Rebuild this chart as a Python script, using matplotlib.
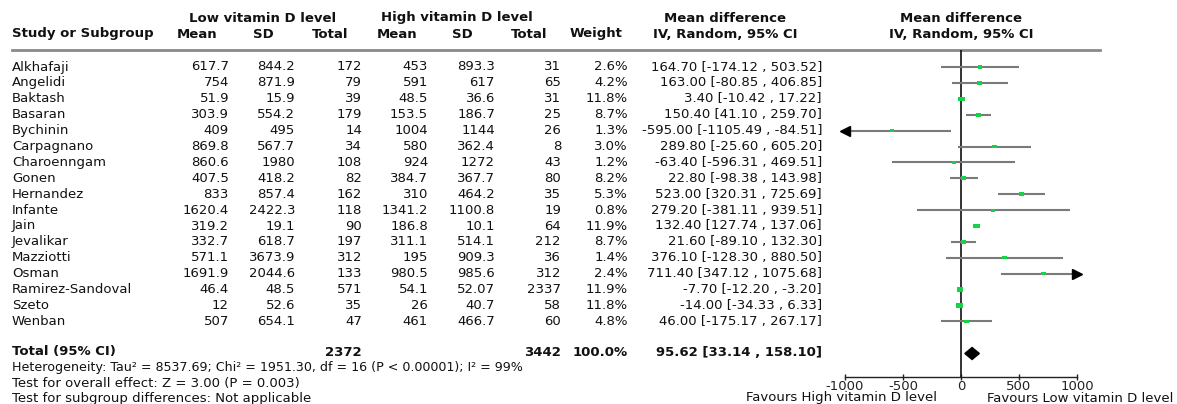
import matplotlib
matplotlib.use("Agg")
import matplotlib.pyplot as plt
from matplotlib.patches import Rectangle, Polygon

plt.rcParams['font.family'] = ['DejaVu Sans']
plt.rcParams['axes.unicode_minus'] = False

# data
studies = ["Alkhafaji", "Angelidi", "Baktash", "Basaran", "Bychinin", "Carpagnano",
           "Charoenngam", "Gonen", "Hernandez", "Infante", "Jain", "Jevalikar",
           "Mazziotti", "Osman", "Ramirez-Sandoval", "Szeto", "Wenban"]
low_mean = [617.7, 754, 51.9, 303.9, 409, 869.8, 860.6, 407.5, 833, 1620.4,
            319.2, 332.7, 571.1, 1691.9, 46.4, 12, 507]
low_sd = [844.2, 871.9, 15.9, 554.2, 495, 567.7, 1980, 418.2, 857.4, 2422.3,
          19.1, 618.7, 3673.9, 2044.6, 48.5, 52.6, 654.1]
low_n = [172, 79, 39, 179, 14, 34, 108, 82, 162, 118, 90, 197, 312, 133, 571, 35, 47]
high_mean = [453, 591, 48.5, 153.5, 1004, 580, 924, 384.7, 310, 1341.2,
             186.8, 311.1, 195, 980.5, 54.1, 26, 461]
high_sd = [893.3, 617, 36.6, 186.7, 1144, 362.4, 1272, 367.7, 464.2, 1100.8,
           10.1, 514.1, 909.3, 985.6, 52.07, 40.7, 466.7]
high_n = [31, 65, 31, 25, 26, 8, 43, 80, 35, 19, 64, 212, 36, 312, 2337, 58, 60]
weight = [2.6, 4.2, 11.8, 8.7, 1.3, 3.0, 1.2, 8.2, 5.3, 0.8, 11.9, 8.7, 1.4, 2.4,
          11.9, 11.8, 4.8]
md = [164.70, 163.00, 3.40, 150.40, -595.00, 289.80, -63.40, 22.80, 523.00, 279.20,
      132.40, 21.60, 376.10, 711.40, -7.70, -14.00, 46.00]
ci_lo = [-174.12, -80.85, -10.42, 41.10, -1105.49, -25.60, -596.31, -98.38, 320.31,
         -381.11, 127.74, -89.10, -128.30, 347.12, -12.20, -34.33, -175.17]
ci_hi = [503.52, 406.85, 17.22, 259.70, -84.51, 605.20, 469.51, 143.98, 725.69,
         939.51, 137.06, 132.30, 880.50, 1075.68, -3.20, 6.33, 267.17]

total_low = 2372
total_high = 3442
pooled = (95.62, 33.14, 158.10)
heterogeneity = "Heterogeneity: Tau\u00b2 = 8537.69; Chi\u00b2 = 1951.30, df = 16 (P < 0.00001); I\u00b2 = 99%"
overall = "Test for overall effect: Z = 3.00 (P = 0.003)"
subgroup = "Test for subgroup differences: Not applicable"
ticks = [-1000, -500, 0, 500, 1000]

W, H = 1177, 404
FS = 9.5
fig = plt.figure(figsize=(W / 100, H / 100), dpi=100)

# table layer in pixel units
ax = fig.add_axes([0, 0, 1, 1])
ax.set_xlim(0, W)
ax.set_ylim(H, 0)
ax.axis('off')

def row_y(i):
    return 67 + 15.9 * i

bold = dict(fontsize=FS, fontweight='bold', va='center', color='#111111')
norm = dict(fontsize=FS, va='center', color='#111111')

# headers
ax.text(263, 18, "Low vitamin D level", ha='center', **bold)
ax.text(457, 18, "High vitamin D level", ha='center', **bold)
ax.text(725, 18, "Mean difference", ha='center', **bold)
ax.text(725, 34, "IV, Random, 95% CI", ha='center', **bold)
ax.text(961, 18, "Mean difference", ha='center', **bold)
ax.text(961, 34, "IV, Random, 95% CI", ha='center', **bold)
ax.text(12, 34, "Study or Subgroup", ha='left', **bold)
for x, lab in [(197, "Mean"), (263, "SD"), (330, "Total"), (397, "Mean"),
               (462, "SD"), (529, "Total"), (596, "Weight")]:
    ax.text(x, 34, lab, ha='center', **bold)
ax.axhline(50, xmin=12 / W, xmax=1100 / W, color='#8a8a8a', lw=2)

col_right = [229, 295, 362, 428, 495, 561, 628, 822]
for i, name in enumerate(studies):
    y = row_y(i)
    ax.text(12, y, name, ha='left', **norm)
    vals = [str(low_mean[i]), str(low_sd[i]), str(low_n[i]),
            str(high_mean[i]), str(high_sd[i]), str(high_n[i]),
            f"{weight[i]:.1f}%",
            f"{md[i]:.2f} [{ci_lo[i]:.2f} , {ci_hi[i]:.2f}]"]
    for x, v in zip(col_right, vals):
        ax.text(x, y, v, ha='right', **norm)

ty = 352
ax.text(12, ty, "Total (95% CI)", ha='left', **bold)
ax.text(362, ty, str(total_low), ha='right', **bold)
ax.text(561, ty, str(total_high), ha='right', **bold)
ax.text(628, ty, "100.0%", ha='right', **bold)
ax.text(822, ty, f"{pooled[0]:.2f} [{pooled[1]:.2f} , {pooled[2]:.2f}]", ha='right', **bold)
ax.text(12, 368, heterogeneity, ha='left', fontsize=9.1, va='center', color='#111111')
ax.text(12, 383.5, overall, ha='left', **norm)
ax.text(12, 398.5, subgroup, ha='left', **norm)

# forest panel
x0, x1, ytop, ybot = 845, 1077, 50, 377
fx = fig.add_axes([x0 / W, 1 - ybot / H, (x1 - x0) / W, (ybot - ytop) / H])
fx.set_xlim(-1000, 1000)
fx.set_ylim(ybot, ytop)
fx.patch.set_visible(False)
for s in ['top', 'left', 'right']:
    fx.spines[s].set_visible(False)
fx.spines['bottom'].set_linewidth(1.0)
fx.spines['bottom'].set_color('#222222')
fx.set_yticks([])
fx.set_xticks(ticks)
fx.set_xticklabels([str(t) for t in ticks], fontsize=FS)
fx.tick_params(axis='x', direction='inout', length=5, width=1, pad=0, colors='#222222')
fx.axvline(0, color='#111111', lw=1.2)

ux = 2000 / (x1 - x0)  # data units per pixel
for i in range(len(studies)):
    y = row_y(i)
    lo = max(ci_lo[i], -1000)
    hi = min(ci_hi[i], 1000)
    fx.plot([lo, hi], [y, y], color='#7a7a7a', lw=1.5, solid_capstyle='butt', clip_on=False)
    if ci_lo[i] < -1000:
        fx.plot([-1000], [y], marker='<', color='black', ms=6.5, clip_on=False)
    if ci_hi[i] > 1000:
        fx.plot([1000], [y], marker='>', color='black', ms=6.5, clip_on=False)
    w = (4.0 + 0.2 * weight[i]) * ux
    h = 3.0 + 0.12 * weight[i]
    fx.add_patch(Rectangle((md[i] - w / 2, y - h / 2), w, h,
                           facecolor='#12d444', edgecolor='none', zorder=3))

est, lo, hi = pooled
dy = 353.5
fx.add_patch(Polygon([(lo, dy), (est, dy - 6), (hi, dy), (est, dy + 6)],
                     closed=True, facecolor='black', edgecolor='black', zorder=3))

fx.text(-1030, 398, "Favours High vitamin D level", ha='center', va='center',
        fontsize=FS, color='#111111', transform=fx.transData, clip_on=False)
fx.text(1030, 398, "Favours Low vitamin D level", ha='center', va='center',
        fontsize=FS, color='#111111', transform=fx.transData, clip_on=False)

fig.savefig("out.png", dpi=100)
